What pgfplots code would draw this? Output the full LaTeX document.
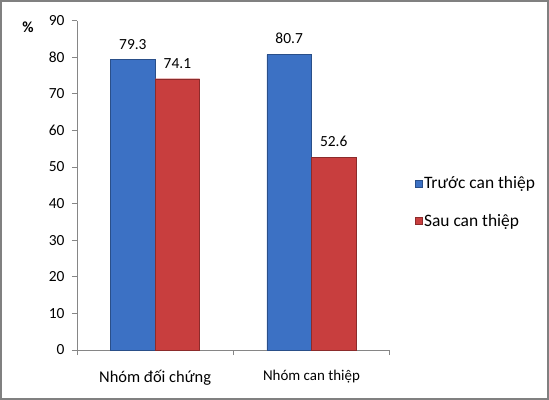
\documentclass[border=0pt]{standalone}
\usepackage{pgfplots}
\pgfplotsset{compat=1.18}
\usepackage{fontspec}
\setmainfont{Carlito}
\definecolor{barblue}{RGB}{60,113,196}
\definecolor{barred}{RGB}{200,62,62}
\definecolor{axgray}{RGB}{134,134,134}
\definecolor{framegray}{RGB}{128,128,128}
\begin{document}
\begin{tikzpicture}
\begin{axis}[
    scale only axis,
    width=312.6bp, height=329.5bp,
    xmin=-0.5, xmax=1.5,
    ymin=0, ymax=90,
    ytick={0,10,...,90},
    xtick={0,1},
    xticklabels={{\fontsize{16.5}{18}\selectfont Nhóm đối chứng},{\fontsize{15}{18}\selectfont Nhóm can thiệp}},
    minor xtick={-0.5,0.5,1.5},
    major x tick style={draw=none},
    axis lines*=left,
    axis line style={axgray, line width=0.8bp},
    tick style={axgray, line width=0.8bp},
    tick align=outside,
    major tick length=5bp,
    minor tick length=5bp,
    /pgf/number format/assume math mode=true,
    tick label style={font=\fontsize{15.5}{18}\selectfont},
    yticklabel style={xshift=-4bp},
    xticklabel style={yshift=-12bp},
    ybar,
    bar width=0.285,
    clip=false,
    nodes near coords,
    every node near coord/.append style={font=\fontsize{15.5}{18}\selectfont, black, yshift=7bp},
    legend style={at={(1.07,0.448)}, anchor=west, draw=none, fill=none,
        font=\fontsize{17.5}{20}\selectfont, row sep=20bp},
    legend cell align=left,
    legend image code/.code={\fill[#1] (0bp,-3.5bp) rectangle (7bp,3.5bp);},
]
\addplot[fill=barblue, draw=barblue!70!black, bar shift=-0.1425] coordinates {(0,79.3) (1,80.7)};
\addlegendentry{Trước can thiệp}
\addplot[fill=barred, draw=barred!70!black, bar shift=0.1425] coordinates {(0,74.1) (1,52.6)};
\addlegendentry{Sau can thiệp}
\node[font=\fontsize{15.5}{18}\selectfont\bfseries] at (rel axis cs:-0.157,0.98) {\%};
\end{axis}
\draw[framegray, line width=2bp] ([shift={(-76bp,-49bp)}]current axis.south west) rectangle ([shift={(471bp,349bp)}]current axis.south west);
\end{tikzpicture}
\end{document}
